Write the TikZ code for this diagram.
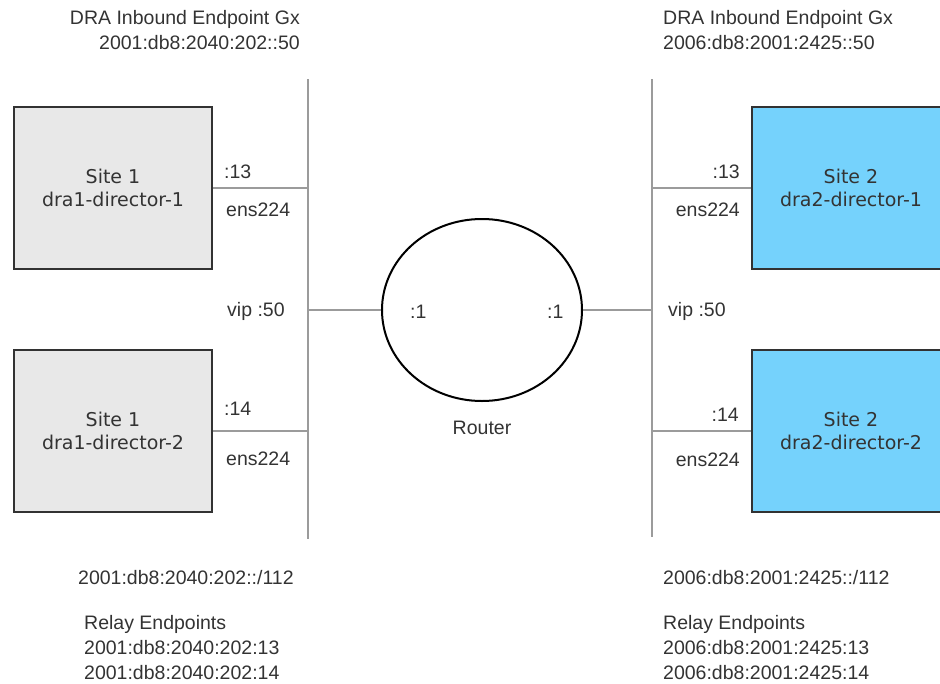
\documentclass[tikz,border=0pt]{standalone}
\usepackage{fontspec}
\setmainfont{Liberation Sans}
\newfontfamily\boxfont{DejaVu Sans}
\usetikzlibrary{shapes.geometric}
\definecolor{sitegray}{RGB}{232,232,232}
\definecolor{siteblue}{RGB}{117,210,252}
\definecolor{edgegray}{RGB}{50,50,50}
\definecolor{busgray}{RGB}{155,155,155}

\begin{document}
\begin{tikzpicture}
		[x=1pt, y=-1pt,
		site/.style = {draw=edgegray, line width=2pt, minimum width=198pt, minimum height=162pt, align=center, font=\boxfont\fontsize{19}{23}\selectfont, text=black!80},
		bus/.style = {draw=busgray, line width=2pt},
		lbl/.style = {inner sep=0pt, font=\fontsize{19.5}{25}\selectfont, text=black!80}]
	\useasboundingbox (0,0) rectangle (940,683);
	% boxes
	\node[site, fill=sitegray] (s1d1) at (113,188) {Site 1\\dra1-director-1};
	\node[site, fill=sitegray] (s1d2) at (113,430.5) {Site 1\\dra1-director-2};
	\node[site, fill=siteblue] (s2d1) at (851,188) {Site 2\\dra2-director-1};
	\node[site, fill=siteblue] (s2d2) at (851,430.5) {Site 2\\dra2-director-2};
	\node[draw, ellipse, line width=2pt, minimum width=200pt, minimum height=182pt, inner sep=0pt] (rtr) at (482,310) {};
	% bus lines
	\coordinate (lbt) at (308,79);
	\coordinate (lbb) at (308,539);
	\coordinate (rbt) at (652,79);
	\coordinate (rbb) at (652,537);
	\draw[bus] (lbt) -- (lbb);
	\draw[bus] (rbt) -- (rbb);
	\draw[bus] (s1d1.east) -- (s1d1.east -| lbt);
	\draw[bus] (s1d2.east) -- (s1d2.east -| lbt);
	\draw[bus] (s2d1.west) -- (s2d1.west -| rbt);
	\draw[bus] (s2d2.west) -- (s2d2.west -| rbt);
	\draw[bus] (rtr.west) -- (rtr.west -| lbt);
	\draw[bus] (rtr.east) -- (rtr.east -| rbt);
	% labels
	\node[lbl, anchor=east, align=right] (gx1) at (300,30.5) {DRA Inbound Endpoint Gx\\2001:db8:2040:202::50};
	\node[lbl, anchor=west, align=left] (gx2) at (663,30.5) {DRA Inbound Endpoint Gx\\2006:db8:2001:2425::50};
	\node[lbl, anchor=west] (p13l) at (224,172) {:13};
	\node[lbl, anchor=west] (e1l) at (226,210) {ens224};
	\node[lbl, anchor=west] (vipl) at (227,311) {vip :50};
	\node[lbl, anchor=west] (p14l) at (224,409) {:14};
	\node[lbl, anchor=west] (e2l) at (226,459) {ens224};
	\node[lbl, anchor=east] (p13r) at (740,172) {:13};
	\node[lbl, anchor=east] (e1r) at (740,210) {ens224};
	\node[lbl, anchor=west] (vipr) at (668,311) {vip :50};
	\node[lbl, anchor=east] (p14r) at (739,415) {:14};
	\node[lbl, anchor=east] (e2r) at (740,460) {ens224};
	\node[lbl, anchor=west] (r1l) at (410,312) {:1};
	\node[lbl, anchor=west] (r1r) at (547,312) {:1};
	\node[lbl] (rname) at (482,428) {Router};
	\node[lbl, anchor=west] (netl) at (78,578) {2001:db8:2040:202::/112};
	\node[lbl, anchor=west] (netr) at (663,578) {2006:db8:2001:2425::/112};
	\node[lbl, anchor=west, align=left] (relayl) at (84,647.5) {Relay Endpoints\\2001:db8:2040:202:13\\2001:db8:2040:202:14};
	\node[lbl, anchor=west, align=left] (relayr) at (663,647.5) {Relay Endpoints\\2006:db8:2001:2425:13\\2006:db8:2001:2425:14};
\end{tikzpicture}
\end{document}
